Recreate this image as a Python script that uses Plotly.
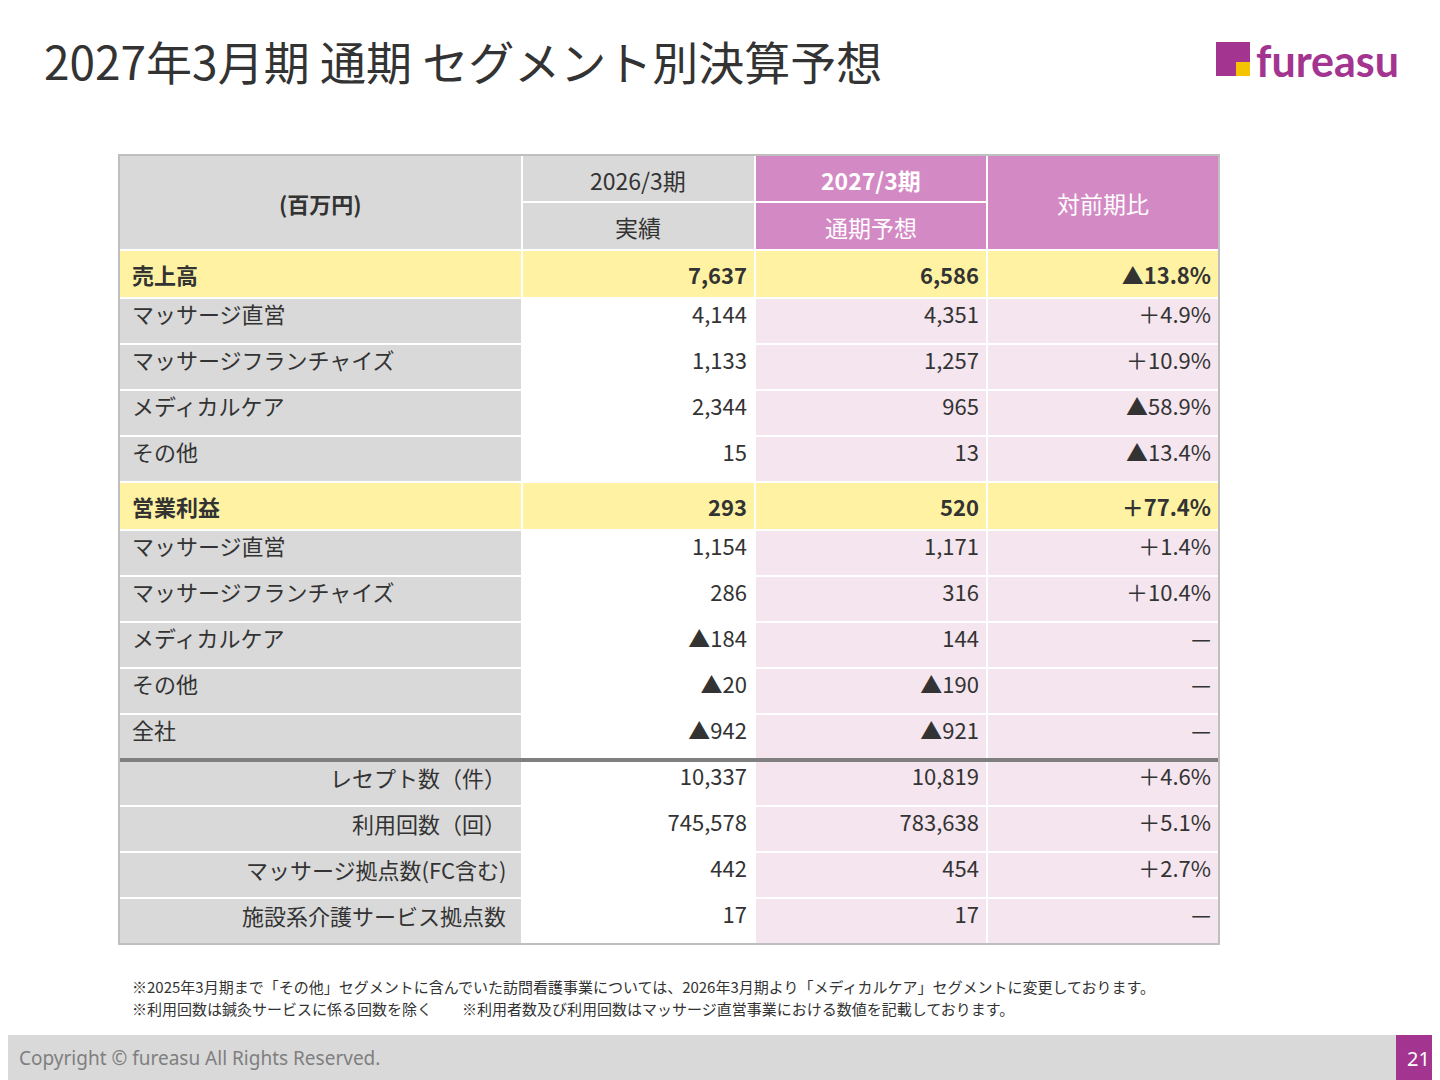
import plotly.graph_objects as go

labels = ["売上高","マッサージ直営","マッサージフランチャイズ","メディカルケア","その他",
          "営業利益","マッサージ直営","マッサージフランチャイズ","メディカルケア","その他","全社",
          "レセプト数（件）","利用回数（回）","マッサージ拠点数(FC含む)","施設系介護サービス拠点数"]
actual_2026 = ["7,637","4,144","1,133","2,344","15","293","1,154","286","▲184","▲20","▲942",
               "10,337","745,578","442","17"]
forecast_2027 = ["6,586","4,351","1,257","965","13","520","1,171","316","144","▲190","▲921",
                 "10,819","783,638","454","17"]
yoy = ["▲13.8%","＋4.9%","＋10.9%","▲58.9%","▲13.4%","＋77.4%","＋1.4%","＋10.4%","—","—","—",
       "＋4.6%","＋5.1%","＋2.7%","—"]
bold_rows = [0, 5]
n_left = 11  # rows whose label is left aligned

W, H = 1440, 1080
OFF = 8  # page body margin
def px(x): return (x - OFF) / W
def py(y): return 1 - (y - OFF) / H

def fmt(col, lead=""):
    return [lead + (f"<b>{v}</b>" if i in bold_rows else v) for i, v in enumerate(col)]

n = len(labels)
YEL, GRAY, PINK, PINKH = "#fff3a3", "#d9d9d9", "#f4e5ee", "#d38ac4"
fill0 = [YEL if i in bold_rows else GRAY for i in range(n)]
fill1 = [YEL if i in bold_rows else "#ffffff" for i in range(n)]
fill2 = [YEL if i in bold_rows else PINK for i in range(n)]
col0 = [v if i < n_left else "" for i, v in enumerate(fmt(labels, " "))]

TOP, HDR, ROWH, BOLDH, BOT = 155, 95, 46, 48, 948
FONT = "Noto Sans CJK JP"
fig = go.Figure(go.Table(
    domain=dict(x=[px(119), px(1219)], y=[py(BOT), py(TOP)]),
    columnwidth=[403, 233, 232, 232],
    header=dict(
        values=["", "", "", ""],
        fill_color=[GRAY, GRAY, PINKH, PINKH],
        font=dict(family=FONT, size=10),
        align="center", height=HDR, line=dict(color="white", width=2)),
    cells=dict(
        values=[col0, fmt(actual_2026), fmt(forecast_2027), fmt(yoy)],
        fill_color=[fill0, fill1, fill2, fill2],
        align=["left", "right", "right", "right"],
        font=dict(family=FONT, size=22, color="#333333"),
        height=ROWH, line=dict(color="white", width=2)),
))

# row tops for annotation placement
tops, y = [], TOP + HDR
for i in range(n):
    tops.append(y)
    y += BOLDH if i in bold_rows else ROWH
sep_y = tops[n_left]
table_bottom = y

shapes = [
    dict(type="line", x0=px(522), x1=px(987), y0=py(202), y1=py(202),
         line=dict(color="white", width=2)),
    dict(type="line", x0=px(119), x1=px(1219), y0=py(sep_y), y1=py(sep_y),
         line=dict(color="#7f7f7f", width=4)),
    dict(type="rect", x0=px(119), x1=px(1219), y0=py(table_bottom), y1=py(TOP),
         line=dict(color="#bfbfbf", width=2)),
    dict(type="rect", x0=px(0), x1=px(1448), y0=py(1090), y1=py(1035),
         fillcolor="#d9d9d9", line=dict(width=0), layer="below"),
    dict(type="rect", x0=px(1396), x1=px(1448), y0=py(1090), y1=py(1035),
         fillcolor="#a3348f", line=dict(width=0)),
    dict(type="rect", x0=px(1216), x1=px(1250), y0=py(76), y1=py(42),
         fillcolor="#a3348f", line=dict(width=0)),
    dict(type="rect", x0=px(1236), x1=px(1250), y0=py(76), y1=py(62),
         fillcolor="#f5c400", line=dict(width=0)),
]
for s in shapes:
    s.update(xref="paper", yref="paper")

def t(text, x, y, size, color="#333333", xa="center", bold=False, family=FONT):
    return dict(text=f"<b>{text}</b>" if bold else text, x=px(x), y=py(y), xanchor=xa, yanchor="middle",
                font=dict(family=family, size=size, color=color))

ann = [
    t("2027年3月期 通期 セグメント別決算予想", 42, 60, 46, xa="left"),
    t("fureasu", 1254, 60, 43, "#a3348f", xa="left", bold=True, family="Lato"),
    t("(百万円)", 320, 203, 22, bold=True),
    t("2026/3期", 638, 180, 23),
    t("実績", 638, 227, 23),
    t("2027/3期", 871, 180, 23, "white", bold=True),
    t("通期予想", 871, 227, 23, "white"),
    t("対前期比", 1103, 203, 23, "white"),
    t("※2025年3月期まで「その他」セグメントに含んでいた訪問看護事業については、2026年3月期より「メディカルケア」セグメントに変更しております。",
      130, 986, 15, xa="left"),
    t("※利用回数は鍼灸サービスに係る回数を除く　　※利用者数及び利用回数はマッサージ直営事業における数値を記載しております。",
      130, 1008, 15, xa="left"),
    t("Copyright © fureasu All Rights Reserved.", 17, 1058, 19, "#7f7f7f", xa="left", family="Noto Sans"),
    t("21", 1418, 1058, 20, "white", family="Noto Sans"),
]
for i in range(n_left, n):
    ann.append(t(labels[i], 508, tops[i] + 17, 22, xa="right"))
for a in ann:
    a.update(xref="paper", yref="paper", showarrow=False)

fig.update_layout(width=W, height=H, margin=dict(l=0, r=0, t=0, b=0), paper_bgcolor="white",
                  shapes=shapes, annotations=ann)
fig.write_html("out.html")
